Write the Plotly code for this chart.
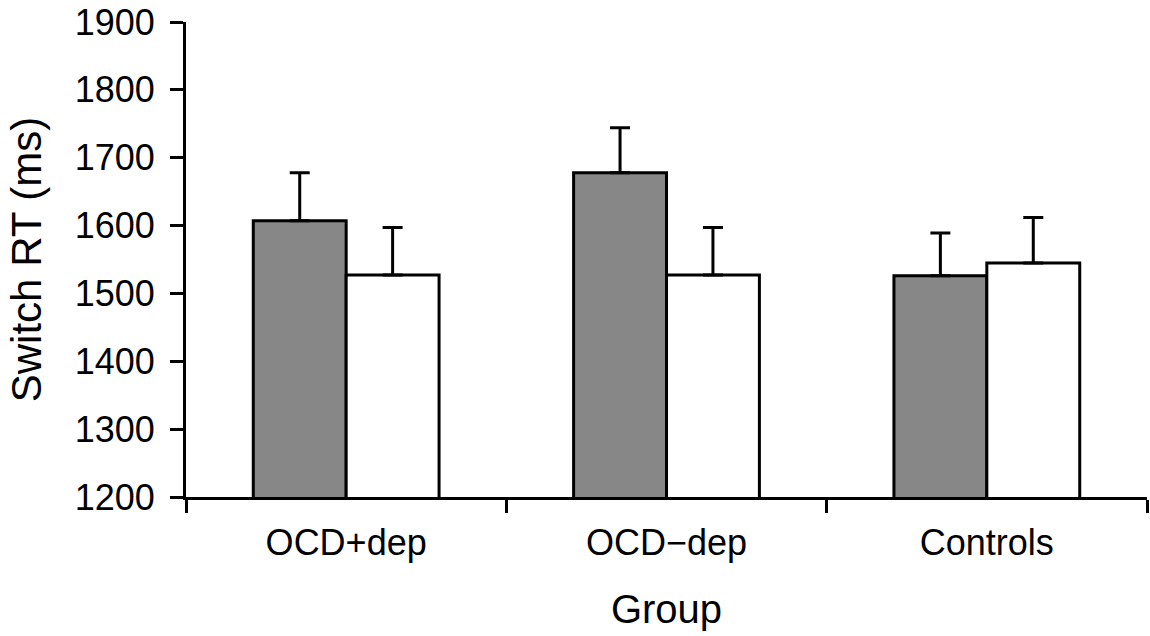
import plotly.graph_objects as go

groups = ["OCD+dep", "OCD\u2212dep", "Controls"]
series_a = [1607, 1678, 1526]
series_a_err = [71, 66, 63]
series_b = [1527, 1527, 1545]
series_b_err = [70, 70, 67]
y_ticks = [1200, 1300, 1400, 1500, 1600, 1700, 1800, 1900]

FONT = "Liberation Sans, Arial, Helvetica, sans-serif"


def err_bar(vals):
    return dict(type="data", array=vals, arrayminus=[0] * len(vals),
                symmetric=False, color="black", thickness=3, width=10)


fig = go.Figure()
fig.add_trace(go.Bar(x=groups, y=series_a,
                     marker=dict(color="#878787", line=dict(color="black", width=3)),
                     error_y=err_bar(series_a_err), showlegend=False))
fig.add_trace(go.Bar(x=groups, y=series_b,
                     marker=dict(color="white", line=dict(color="black", width=3)),
                     error_y=err_bar(series_b_err), showlegend=False))

fig.update_layout(
    width=1150, height=636,
    margin=dict(l=186, r=3, t=22, b=139, autoexpand=False),
    paper_bgcolor="white", plot_bgcolor="white",
    barmode="group", bargap=0.42, bargroupgap=0,
    font=dict(family=FONT, size=36, color="black"),
)
fig.update_xaxes(
    showline=True, linecolor="black", linewidth=3,
    ticks="outside", tickson="boundaries", ticklen=13, tickwidth=3, tickcolor="black",
    ticklabelstandoff=12, ticklabeloverflow="allow", automargin=False,
    title=dict(text="Group", font=dict(size=40), standoff=33),
    showgrid=False,
)
fig.update_yaxes(
    range=[1200, 1900], tickvals=y_ticks,
    showline=True, linecolor="black", linewidth=3,
    ticks="outside", ticklen=13, tickwidth=3, tickcolor="black",
    ticklabelstandoff=8, ticklabeloverflow="allow", automargin=False,
    title=dict(text="Switch RT (ms)", font=dict(size=42), standoff=21),
    showgrid=False, zeroline=False,
)

# drop the default page margin so the figure sits at the window corner
fig.write_html("out.html", config={"displayModeBar": False},
               post_script="document.body.style.margin = '0';")
